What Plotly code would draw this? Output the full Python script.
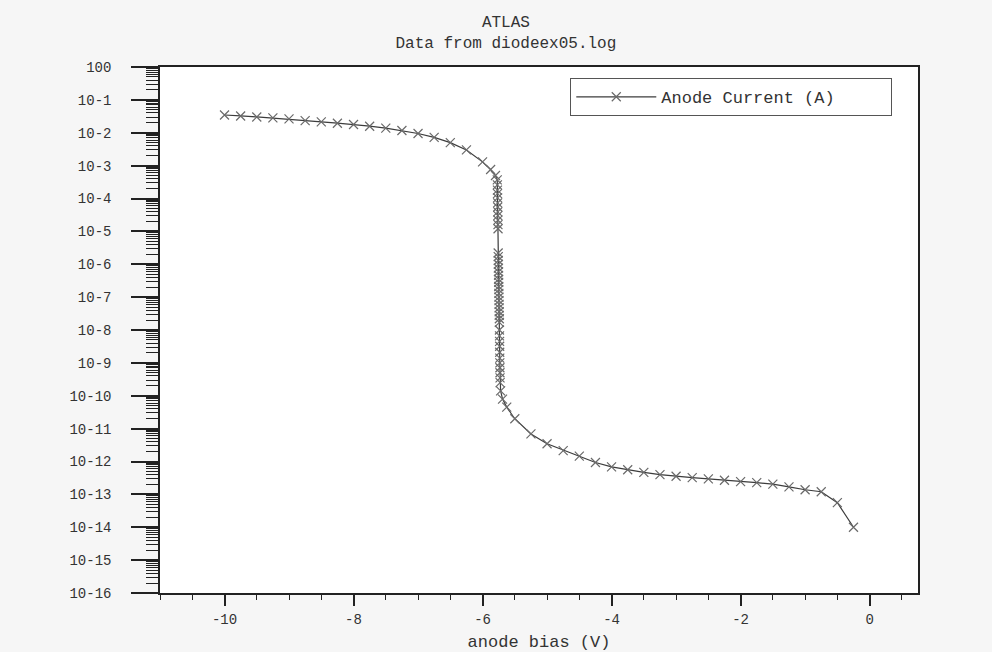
import plotly.graph_objects as go

# Anode bias (V) in sweep order and anode current (A)
anode_bias = [
    -0.25, -0.5, -0.75, -1.0, -1.25, -1.5, -1.75, -2.0, -2.25, -2.5, -2.75,
    -3.0, -3.25, -3.5, -3.75, -4.0, -4.25, -4.5, -4.75, -5.0, -5.25, -5.5,
    -5.625, -5.69, -5.72,
    -5.728, -5.729, -5.730, -5.731, -5.732, -5.733, -5.734, -5.735, -5.736, -5.737, -5.738,
    -5.739, -5.740, -5.741, -5.742, -5.743, -5.744, -5.745, -5.746, -5.747, -5.748,
    -5.749, -5.750, -5.751, -5.752, -5.753, -5.754, -5.755, -5.756, -5.757, -5.758,
    -5.760, -5.761, -5.762, -5.763, -5.764, -5.765, -5.766, -5.767, -5.768, -5.769,
    -5.770, -5.772,
    -5.80, -5.875, -6.0, -6.25, -6.5, -6.75, -7.0, -7.25, -7.5, -7.75, -8.0,
    -8.25, -8.5, -8.75, -9.0, -9.25, -9.5, -9.75, -10.0,
]
anode_current = [
    1.0e-14, 5.6e-14, 1.2e-13, 1.38e-13, 1.7e-13, 2.04e-13, 2.29e-13, 2.45e-13, 2.69e-13, 2.95e-13, 3.24e-13,
    3.55e-13, 3.98e-13, 4.68e-13, 5.6e-13, 6.9e-13, 9.3e-13, 1.45e-12, 2.14e-12, 3.47e-12, 6.9e-12, 2.0e-11,
    4.5e-11, 7.9e-11, 1.4e-10,
    2.5e-10, 3.5e-10, 5.0e-10, 7.1e-10, 1.0e-9, 1.4e-9, 2.1e-9, 3.2e-9, 4.5e-9, 6.6e-9, 1.0e-8,
    1.7e-8, 2.2e-8, 2.8e-8, 3.6e-8, 4.7e-8, 6.0e-8, 7.8e-8, 1.0e-7, 1.3e-7, 1.7e-7,
    2.1e-7, 2.8e-7, 3.5e-7, 4.6e-7, 5.9e-7, 7.6e-7, 1.0e-6, 1.3e-6, 1.7e-6, 2.2e-6,
    1.2e-5, 1.6e-5, 2.2e-5, 3.0e-5, 3.9e-5, 5.5e-5, 7.4e-5, 1.05e-4, 1.4e-4, 1.8e-4,
    2.6e-4, 3.7e-4,
    5.0e-4, 7.6e-4, 1.3e-3, 3.0e-3, 5.0e-3, 7.2e-3, 9.5e-3, 1.17e-2, 1.38e-2, 1.58e-2, 1.78e-2,
    1.95e-2, 2.14e-2, 2.34e-2, 2.63e-2, 2.82e-2, 3.02e-2, 3.24e-2, 3.47e-2,
]

x_tick_values = [-10, -8, -6, -4, -2, 0]
x_tick_labels = ["-10", "-8", "-6", "-4", "-2", "0"]
y_tick_values = [10.0 ** (-k) for k in range(0, 17)]
y_tick_labels = ["100"] + ["10-%d" % k for k in range(1, 17)]

FONT = "Liberation Mono"
TXT = "#333333"
AX = "#222222"

fig = go.Figure()
fig.add_trace(go.Scatter(
    x=anode_bias, y=anode_current, mode="lines+markers",
    name="Anode Current (A)" + "\u00a0" * 5,
    line=dict(color="#3c3c3c", width=1.2),
    marker=dict(symbol="x-thin", size=9, line=dict(color="#6a6a6a", width=1.2), color="#6a6a6a"),
))

fig.update_layout(
    width=992, height=652,
    margin=dict(l=160, r=74, t=67, b=59),
    paper_bgcolor="#f6f6f6", plot_bgcolor="white",
    font=dict(family=FONT, color=TXT),
    title=dict(text="ATLAS<br>Data from diodeex05.log", x=0.51, xanchor="center",
               y=1 - 27 / 652, yanchor="middle", font=dict(family=FONT, size=16, color=TXT)),
    showlegend=True,
    legend=dict(x=0.541, y=0.979, xanchor="left", yanchor="top",
                bgcolor="white", bordercolor="#555", borderwidth=1.2,
                itemwidth=80,
                font=dict(family=FONT, size=17, color=TXT)),
)
fig.update_xaxes(
    automargin=False,
    range=[-11, 0.75], tickvals=x_tick_values, ticktext=x_tick_labels,
    ticks="outside", ticklen=11, tickwidth=1.5, tickcolor=AX, ticklabelstandoff=1,
    minor=dict(dtick=0.5, tick0=0, ticks="outside", ticklen=5, tickwidth=1, tickcolor=AX),
    showline=True, linecolor=AX, linewidth=1.5, mirror=True,
    showgrid=False, zeroline=False,
    tickfont=dict(family=FONT, size=14, color=TXT),
    title=dict(text="anode bias (V)", font=dict(family=FONT, size=17, color=TXT), standoff=9),
)
fig.update_yaxes(
    automargin=False,
    type="log", range=[-16, 0], tickvals=y_tick_values, ticktext=y_tick_labels,
    ticks="outside", ticklen=27, tickwidth=1.5, tickcolor=AX, ticklabelstandoff=17,
    minor=dict(dtick="D1", ticks="outside", ticklen=12, tickwidth=1, tickcolor=AX),
    showline=True, linecolor=AX, linewidth=1.5, mirror=True,
    showgrid=False, zeroline=False,
    tickfont=dict(family=FONT, size=14, color=TXT),
)

fig.write_html("out.html")
